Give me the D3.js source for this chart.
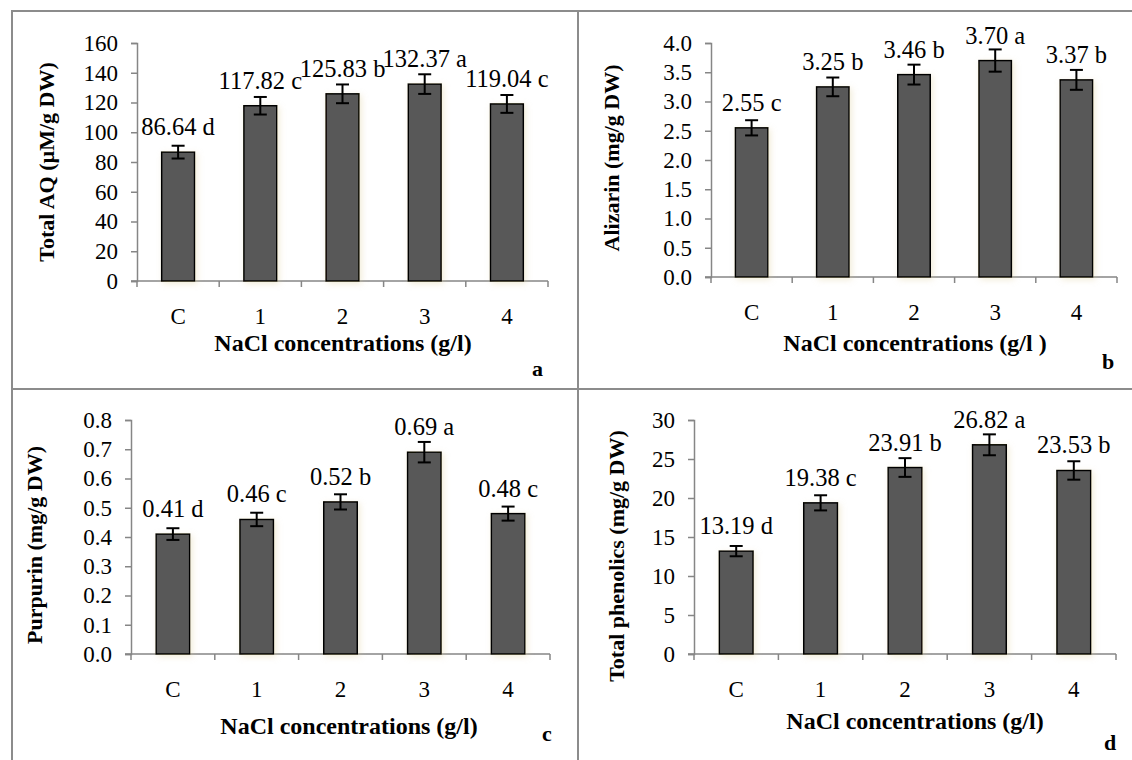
<!DOCTYPE html>
<html>
<head>
<meta charset="utf-8">
<script src="https://cdn.jsdelivr.net/npm/d3@7"></script>
<style>
  body { margin: 0; background: #fff; }
  svg { display: block; font-family: "Liberation Serif", "Times New Roman", serif; }
</style>
</head>
<body>
<div id="chart"></div>
<script>
// Data
const categories = ["C", "1", "2", "3", "4"];

const aqValues = [86.64, 117.82, 125.83, 132.37, 119.04];
const aqErrors = [4.3, 5.9, 6.3, 6.6, 6.0];
const aqLetters = ["d", "c", "b", "a", "c"];
const aqTicks = [0, 20, 40, 60, 80, 100, 120, 140, 160];

const alizarinValues = [2.55, 3.25, 3.46, 3.70, 3.37];
const alizarinErrors = [0.13, 0.16, 0.17, 0.19, 0.17];
const alizarinLetters = ["c", "b", "b", "a", "b"];
const alizarinTicks = [0, 0.5, 1.0, 1.5, 2.0, 2.5, 3.0, 3.5, 4.0];

const purpurinValues = [0.41, 0.46, 0.52, 0.69, 0.48];
const purpurinErrors = [0.02, 0.023, 0.026, 0.035, 0.024];
const purpurinLetters = ["d", "c", "b", "a", "c"];
const purpurinTicks = [0, 0.1, 0.2, 0.3, 0.4, 0.5, 0.6, 0.7, 0.8];

const phenolicValues = [13.19, 19.38, 23.91, 26.82, 23.53];
const phenolicErrors = [0.66, 0.97, 1.2, 1.34, 1.18];
const phenolicLetters = ["d", "c", "b", "a", "b"];
const phenolicTicks = [0, 5, 10, 15, 20, 25, 30];

const width = 1132;
const height = 760;

const svg = d3.select("#chart")
  .append("svg")
  .attr("width", width)
  .attr("height", height);

// soft shadow behind the bars
const defs = svg.append("defs");
const shadow = defs.append("filter")
  .attr("id", "soft")
  .attr("x", "-30%").attr("y", "-10%")
  .attr("width", "170%").attr("height", "130%");
shadow.append("feGaussianBlur").attr("in", "SourceAlpha").attr("stdDeviation", 3).attr("result", "blur");
shadow.append("feOffset").attr("dx", 2).attr("dy", 2).attr("result", "off");
shadow.append("feFlood").attr("flood-color", "#d8c98f").attr("flood-opacity", 0.35);
shadow.append("feComposite").attr("in2", "off").attr("operator", "in");
const merge = shadow.append("feMerge");
merge.append("feMergeNode");
merge.append("feMergeNode").attr("in", "SourceGraphic");

// Frame lines
const frame = svg.append("g")
  .attr("stroke", "#8c8c8c")
  .attr("stroke-width", 2);
frame.append("line").attr("x1", 12).attr("y1", 11).attr("x2", 12).attr("y2", height);
frame.append("line").attr("x1", 11).attr("y1", 11).attr("x2", width).attr("y2", 11);
frame.append("line").attr("x1", 578).attr("y1", 11).attr("x2", 578).attr("y2", height);
frame.append("line").attr("x1", 11).attr("y1", 389).attr("x2", width).attr("y2", 389);

const panels = [
  {
    values: aqValues, errors: aqErrors, letters: aqLetters, ticks: aqTicks, fmt: d3.format("d"),
    yTitle: "Total AQ (\u00b5M/g DW)", xTitle: "NaCl concentrations (g/l)", tag: "a",
    x0: 137, x1: 548, y0: 281, y1: 43,
    yTitleX: 54, yTitleY: 162, xTitleX: 343, xTitleY: 351, tagX: 532, tagY: 376
  },
  {
    values: alizarinValues, errors: alizarinErrors, letters: alizarinLetters, ticks: alizarinTicks, fmt: d3.format(".1f"),
    yTitle: "Alizarin (mg/g DW)", xTitle: "NaCl concentrations (g/l )", tag: "b",
    x0: 711, x1: 1117, y0: 277, y1: 43,
    yTitleX: 619, yTitleY: 158, xTitleX: 915, xTitleY: 351, tagX: 1102, tagY: 369
  },
  {
    values: purpurinValues, errors: purpurinErrors, letters: purpurinLetters, ticks: purpurinTicks, fmt: d3.format(".1f"),
    yTitle: "Purpurin (mg/g DW)", xTitle: "NaCl concentrations (g/l)", tag: "c",
    x0: 131, x1: 550, y0: 654, y1: 420,
    yTitleX: 42, yTitleY: 545, xTitleX: 349, xTitleY: 734, tagX: 542, tagY: 741
  },
  {
    values: phenolicValues, errors: phenolicErrors, letters: phenolicLetters, ticks: phenolicTicks, fmt: d3.format("d"),
    yTitle: "Total phenolics (mg/g DW)", xTitle: "NaCl concentrations (g/l)", tag: "d",
    x0: 694, x1: 1116, y0: 654, y1: 420,
    yTitleX: 624, yTitleY: 556, xTitleX: 915, xTitleY: 729, tagX: 1104, tagY: 750
  }
];

panels.forEach(p => {
  const g = svg.append("g");

  const x = d3.scaleBand()
    .domain(categories)
    .range([p.x0, p.x1])
    .paddingInner(0.6)
    .paddingOuter(0.3);

  const y = d3.scaleLinear()
    .domain([0, d3.max(p.ticks)])
    .range([p.y0, p.y1]);

  // y axis
  const yAxis = g.append("g")
    .attr("transform", `translate(${p.x0},0)`)
    .call(d3.axisLeft(y).tickValues(p.ticks).tickFormat(p.fmt).tickSize(6).tickPadding(13));
  yAxis.attr("font-family", null).attr("font-size", null);
  yAxis.select(".domain").attr("stroke", "#868686").attr("stroke-width", 1.5);
  yAxis.selectAll(".tick line").attr("stroke", "#868686").attr("stroke-width", 1.5);
  yAxis.selectAll(".tick text")
    .attr("fill", "#000")
    .attr("font-size", 23);

  // x axis: line with ticks between categories
  const step = x.step();
  const bounds = d3.range(categories.length + 1).map(i => p.x0 + i * step);
  g.append("line")
    .attr("x1", p.x0 - 6).attr("x2", p.x1)
    .attr("y1", p.y0).attr("y2", p.y0)
    .attr("stroke", "#868686").attr("stroke-width", 1.5);
  g.selectAll(".xtick")
    .data(bounds)
    .join("line")
    .attr("x1", d => d).attr("x2", d => d)
    .attr("y1", p.y0).attr("y2", p.y0 + 6)
    .attr("stroke", "#868686").attr("stroke-width", 1.5);
  g.selectAll(".xlab")
    .data(categories)
    .join("text")
    .attr("x", d => x(d) + x.bandwidth() / 2)
    .attr("y", p.y0 + 43)
    .attr("text-anchor", "middle")
    .attr("font-size", 23)
    .text(d => d);

  // bars
  g.selectAll(".bar")
    .data(p.values)
    .join("rect")
    .attr("x", (d, i) => x(categories[i]))
    .attr("y", d => y(d))
    .attr("width", x.bandwidth())
    .attr("height", d => p.y0 - y(d))
    .attr("fill", "#595959")
    .attr("stroke", "#000")
    .attr("stroke-width", 1.5)
    .attr("filter", "url(#soft)");

  // error bars
  const cap = 6.5;
  const err = g.append("g").attr("stroke", "#000").attr("stroke-width", 2);
  p.values.forEach((v, i) => {
    const cx = x(categories[i]) + x.bandwidth() / 2;
    const top = y(v + p.errors[i]);
    const bot = y(v - p.errors[i]);
    err.append("line").attr("x1", cx).attr("x2", cx).attr("y1", top).attr("y2", bot);
    err.append("line").attr("x1", cx - cap).attr("x2", cx + cap).attr("y1", top).attr("y2", top);
    err.append("line").attr("x1", cx - cap).attr("x2", cx + cap).attr("y1", bot).attr("y2", bot);
  });

  // value labels
  g.selectAll(".val")
    .data(p.values)
    .join("text")
    .attr("x", (d, i) => x(categories[i]) + x.bandwidth() / 2)
    .attr("y", d => y(d) - 17)
    .attr("text-anchor", "middle")
    .attr("font-size", 24.5)
    .text((d, i) => `${d3.format(".2f")(d)} ${p.letters[i]}`);

  // titles
  g.append("text")
    .attr("transform", `translate(${p.yTitleX},${p.yTitleY}) rotate(-90)`)
    .attr("text-anchor", "middle")
    .attr("font-size", 22)
    .attr("font-weight", "bold")
    .text(p.yTitle);

  g.append("text")
    .attr("x", p.xTitleX)
    .attr("y", p.xTitleY)
    .attr("text-anchor", "middle")
    .attr("font-size", 24)
    .attr("font-weight", "bold")
    .text(p.xTitle);

  g.append("text")
    .attr("x", p.tagX)
    .attr("y", p.tagY)
    .attr("font-size", 22)
    .attr("font-weight", "bold")
    .text(p.tag);
});
</script>
</body>
</html>
